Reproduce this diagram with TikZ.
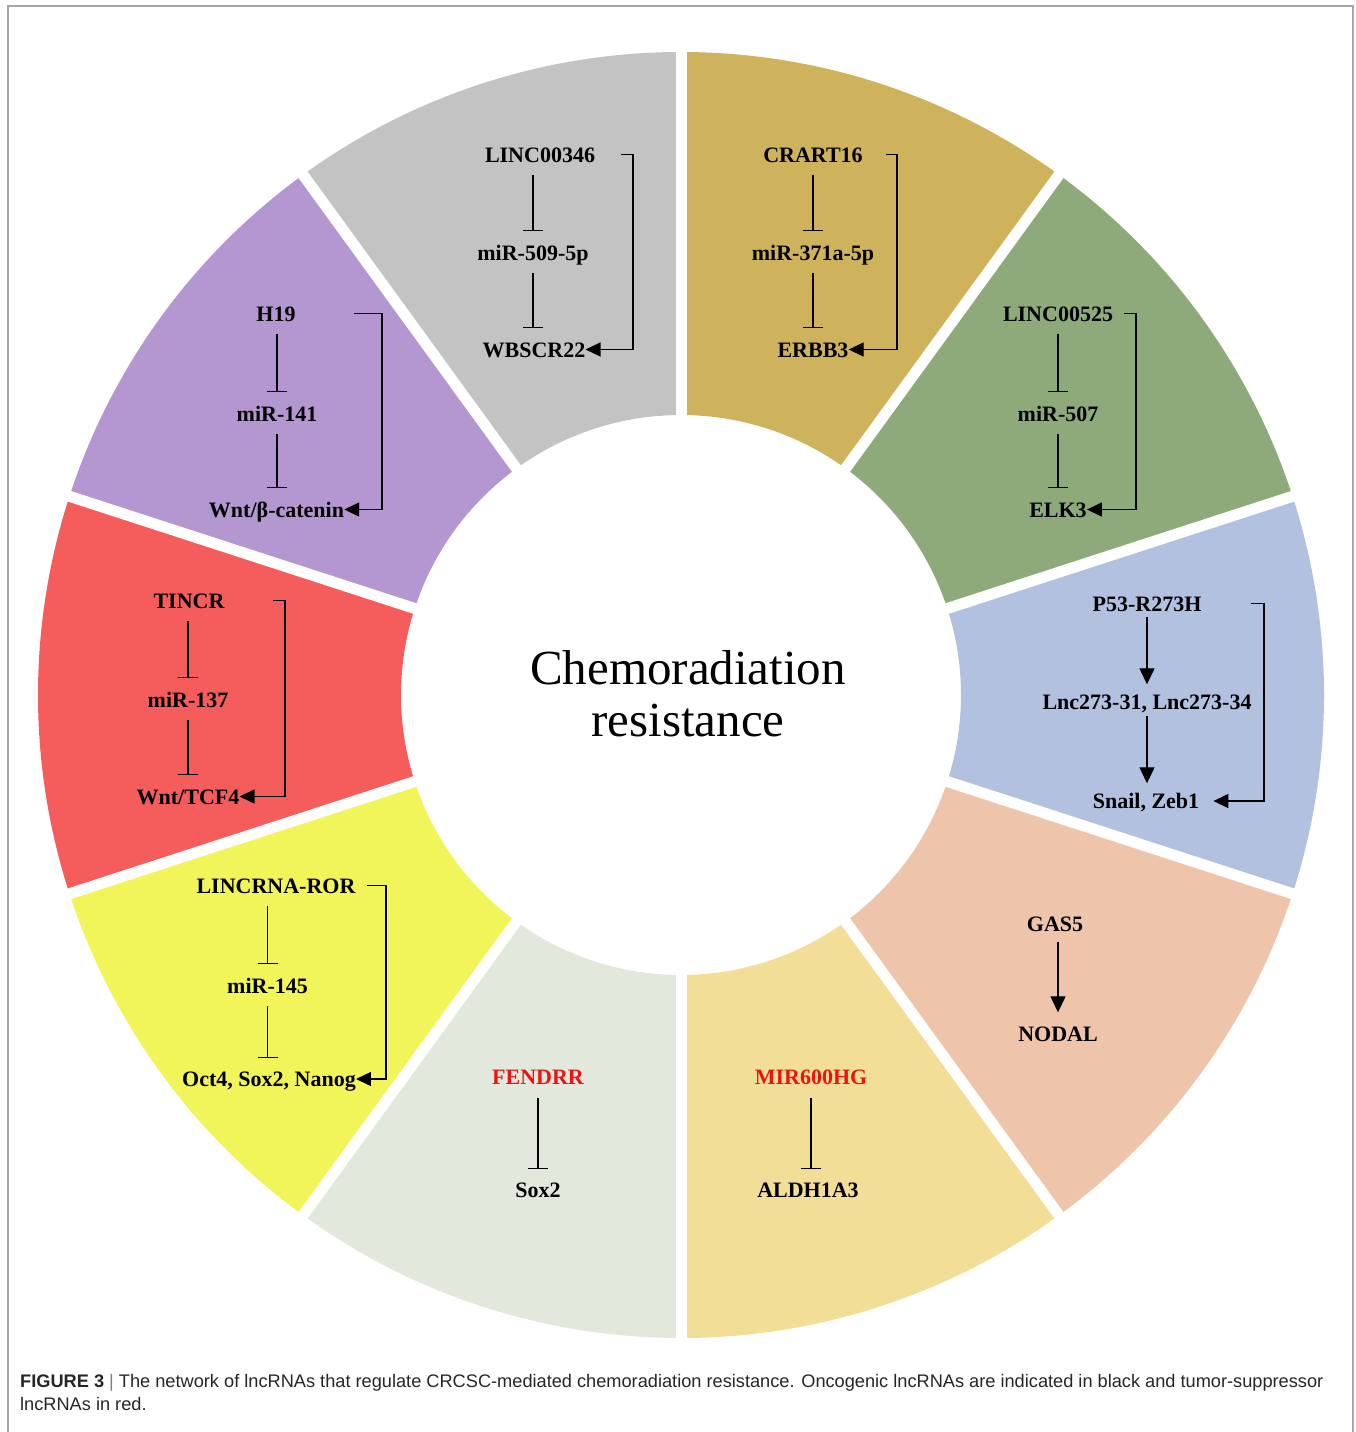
\documentclass[tikz,border=0pt]{standalone}
\usepackage{fontspec}
\setmainfont{Liberation Serif}
\newfontfamily\capfont{Liberation Sans}
\usetikzlibrary{arrows.meta}
\definecolor{graySeg}{RGB}{196,195,195}
\definecolor{goldSeg}{RGB}{207,178,92}
\definecolor{grnSeg}{RGB}{142,169,122}
\definecolor{blueSeg}{RGB}{178,193,224}
\definecolor{peachSeg}{RGB}{238,197,170}
\definecolor{ltyelSeg}{RGB}{243,222,151}
\definecolor{ltgrnSeg}{RGB}{226,233,220}
\definecolor{yelSeg}{RGB}{242,245,90}
\definecolor{redSeg}{RGB}{245,92,92}
\definecolor{purSeg}{RGB}{180,150,208}
\definecolor{suptext}{RGB}{235,20,20}
\tikzset{
  gene/.style    = {font=\fontsize{22}{24}\selectfont\bfseries, inner sep=0pt,
                    text height=15pt, text depth=0pt},
  supgene/.style = {gene, text=suptext},
  inhib/.style   = {-{Bar[width=20pt]}, line width=1.3pt,
                    shorten <=13pt, shorten >=13.5pt},
  act/.style     = {-{Triangle[length=16pt,width=15pt]}, line width=1.3pt,
                    shorten <=6pt, shorten >=10pt},
  fb/.style      = {-{Triangle[length=15pt,width=14pt]}, line width=1.3pt},
  gapline/.style = {white, line width=11pt},
  title/.style   = {font=\fontsize{49}{52}\selectfont, align=center, inner sep=0pt},
  caption/.style = {font=\capfont\fontsize{18.2}{23}\selectfont, text=black!85,
                    anchor=base west, inner sep=0pt}
}
\begin{document}
\begin{tikzpicture}[x=1pt,y=-1pt]
\useasboundingbox (0,0) rectangle (1356,1432);

% frame
\draw[black!35, line width=2pt] (8,1432) -- (8,6) -- (1353,6) -- (1353,1432);

% -------------------- Ring --------------------
\begin{scope}[shift={(681,695)}]
\foreach \a/\col [evaluate=\a as \b using \a+36] in
    {18/peachSeg, 54/ltyelSeg, 90/ltgrnSeg, 126/yelSeg, 162/redSeg,
     198/purSeg, 234/graySeg, 270/goldSeg, 306/grnSeg, 342/blueSeg}{
  \fill[\col] (\a:643) arc[start angle=\a, end angle=\b, radius=643]
    -- (\b:280) arc[start angle=\b, end angle=\a, radius=280] -- cycle;
}
\foreach \a in {18,54,...,342}
  \draw[gapline] (\a:270) -- (\a:655);
\end{scope}

\node[title] (title) at (688,694) {Chemoradiation\\resistance};

% -------------------- Segments --------------------

% LINC00346
\node[gene] (lnc346) at (540,154.5) {LINC00346};
\node[gene] (mir509) at (533,252.5) {miR-509-5p};
\node[gene] (wbscr)  at (534,349.5) {WBSCR22};
\coordinate (grayR) at (633,154.5);
\draw[inhib] (lnc346.south -| mir509) -- (mir509.north);
\draw[inhib] (mir509.south) -- (mir509.south |- wbscr.north);
\draw[fb] ([xshift=-12pt]grayR) -- (grayR) |- (wbscr.east);

% CRART16
\node[gene] (crart)  at (813,154.5) {CRART16};
\node[gene] (mir371) at (813,252.5) {miR-371a-5p};
\node[gene] (erbb)   at (813,349.5) {ERBB3};
\coordinate (goldR) at (897,154.5);
\draw[inhib] (crart.south) -- (mir371.north);
\draw[inhib] (mir371.south) -- (erbb.north);
\draw[fb] ([xshift=-11pt]goldR) -- (goldR) |- (erbb.east);

% H19
\node[gene] (h19)    at (276,313.5) {H19};
\node[gene] (mir141) at (277,413.5) {miR-141};
\node[gene] (wntb)   at (276.5,509.5) {Wnt/β-catenin};
\coordinate (purR) at (382,313.5);
\draw[inhib] (h19.south -| mir141) -- (mir141.north);
\draw[inhib] (mir141.south) -- (mir141.south |- wntb.north);
\draw[fb] ([xshift=-28pt]purR) -- (purR) |- (wntb.east);

% LINC00525
\node[gene] (lnc525) at (1058,313.5) {LINC00525};
\node[gene] (mir507) at (1058,413.5) {miR-507};
\node[gene] (elk)    at (1058,509.5) {ELK3};
\coordinate (grnR) at (1136,313.5);
\draw[inhib] (lnc525.south) -- (mir507.north);
\draw[inhib] (mir507.south) -- (elk.north);
\draw[fb] ([xshift=-12pt]grnR) -- (grnR) |- (elk.east);

% TINCR
\node[gene] (tincr)  at (189,600.5) {TINCR};
\node[gene] (mir137) at (188,699.5) {miR-137};
\node[gene] (wntt)   at (188,796.5) {Wnt/TCF4};
\coordinate (redR) at (285,600.5);
\draw[inhib] (tincr.south -| mir137) -- (mir137.north);
\draw[inhib] (mir137.south) -- (mir137.south |- wntt.north);
\draw[fb] ([xshift=-12pt]redR) -- (redR) |- (wntt.east);

% P53-R273H
\node[gene] (p53)    at (1147,603.5) {P53-R273H};
\node[gene] (lnc273) at (1147,702) {Lnc273-31, Lnc273-34};
\node[gene] (snail)  at (1146,801) {Snail, Zeb1};
\coordinate (blueR) at (1264,603.5);
\draw[act] (p53.south) -- (lnc273.north);
\draw[act] (lnc273.south) -- (lnc273.south |- snail.north);
\draw[fb, shorten >=14pt] ([xshift=-13pt]blueR) -- (blueR) |- (snail.east);

% LINCRNA-ROR
\node[gene] (ror)    at (276,885.5) {LINCRNA-ROR};
\node[gene] (mir145) at (267.5,985.5) {miR-145};
\node[gene] (oct)    at (269,1079) {Oct4, Sox2, Nanog};
\coordinate (yelR) at (386,885.5);
\draw[inhib] (ror.south -| mir145) -- (mir145.north);
\draw[inhib] (mir145.south) -- (mir145.south |- oct.north);
\draw[fb] ([xshift=-19pt]yelR) -- (yelR) |- (oct.east);

% FENDRR
\node[supgene] (fendrr) at (538,1077) {FENDRR};
\node[gene]    (soxb)   at (538,1190) {Sox2};
\draw[inhib] (fendrr.south) -- (soxb.north);

% MIR600HG
\node[supgene] (mir600) at (811,1077) {MIR600HG};
\node[gene]    (aldh)   at (808,1190) {ALDH1A3};
\draw[inhib] (mir600.south) -- (mir600.south |- aldh.north);

% GAS5
\node[gene] (gas5)  at (1055,924) {GAS5};
\node[gene] (nodal) at (1058,1034) {NODAL};
\draw[act, shorten <=10pt, shorten >=14pt] (nodal.north |- gas5.south) -- (nodal.north);

% -------------------- Caption --------------------
\node[caption] (cap1) at (20,1387) {\textbf{FIGURE 3} {\color{black!50}|} The network of lncRNAs that regulate CRCSC-mediated chemoradiation resistance. Oncogenic lncRNAs are indicated in black and tumor-suppressor};
\node[caption] (cap2) at (20,1410) {lncRNAs in red.};

\end{tikzpicture}
\end{document}
